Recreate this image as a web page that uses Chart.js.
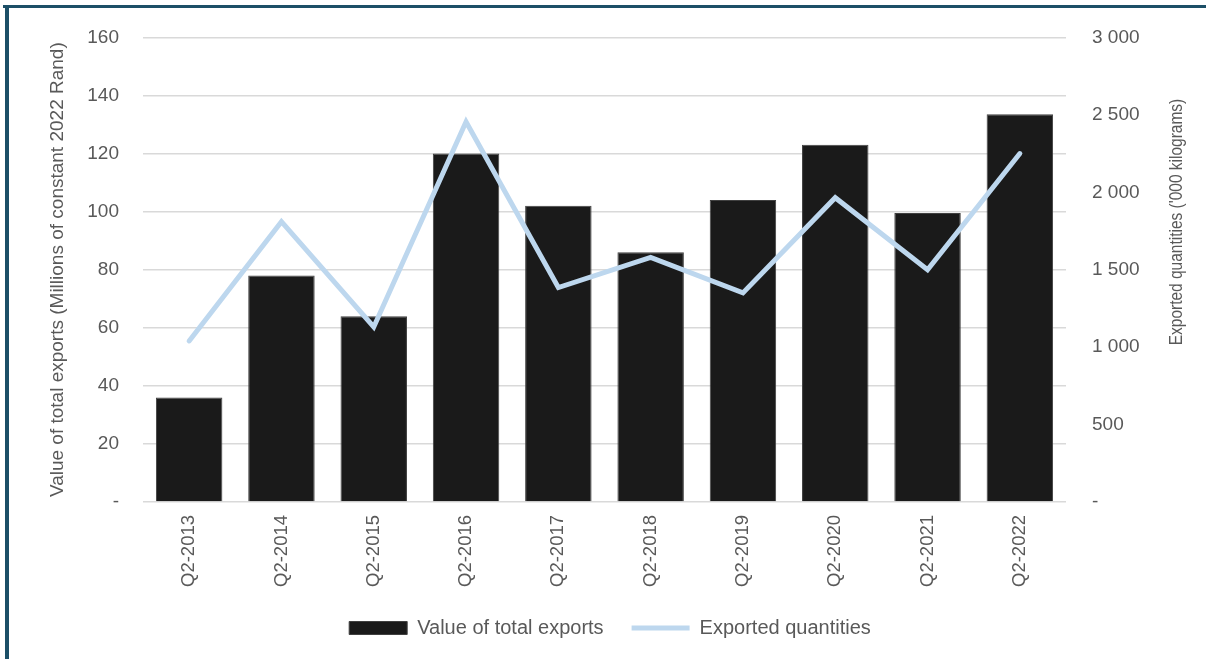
<!DOCTYPE html>
<html lang="en">
<head>
  <meta charset="UTF-8" />
  <title>Exports chart</title>
  <script src="https://cdn.jsdelivr.net/npm/chart.js"></script>
  <style>
    html, body {
      margin: 0;
      padding: 0;
      background: #ffffff;
      overflow: hidden;
    }
    .frame-top {
      position: absolute;
      left: 3px;
      top: 5px;
      width: 1203px;
      height: 3px;
      background: #1c4f67;
    }
    .frame-left {
      position: absolute;
      left: 5px;
      top: 5px;
      width: 4px;
      height: 654px;
      background: #1c4f67;
    }
    .wrap {
      position: absolute;
      left: 0;
      top: 0;
      width: 1206px;
      height: 659px;
    }
  </style>
</head>
<body>
  <div class="wrap"><canvas id="exportsChart"></canvas></div>
  <div class="frame-top"></div>
  <div class="frame-left"></div>

  <script>
    // data
    const categories = ['Q2-2013', 'Q2-2014', 'Q2-2015', 'Q2-2016', 'Q2-2017',
                        'Q2-2018', 'Q2-2019', 'Q2-2020', 'Q2-2021', 'Q2-2022'];
    const exportValues = [36, 78, 64, 120, 102, 86, 104, 123, 99.5, 133.5];   // R millions
    const exportQuantities = [1040, 1810, 1130, 2455, 1385, 1580, 1350, 1965, 1500, 2250]; // '000 kg

    const leftTicks = [0, 20, 40, 60, 80, 100, 120, 140, 160];
    const rightTicks = [0, 500, 1000, 1500, 2000, 2500, 3000];

    const leftTitle = 'Value of total exports (Millions of constant 2022 Rand)';
    const rightTitle = "Exported quantities ('000 kilograms)";

    const grey = '#595959';
    const family = "'Liberation Sans', Arial, sans-serif";
    const tickFont = { family: family, size: 19 };
    const xFont = { family: family, size: 18.5 };
    const legendFont = { family: family, size: 20 };

    const fmtSpace = v => v === 0 ? '-' : String(v).replace(/\B(?=(\d{3})+(?!\d))/g, ' ');

    // right axis title reads bottom-to-top in the original (and is squeezed), Chart.js turns it the other way
    const rightTitlePlugin = {
      id: 'rightTitle',
      afterDraw(chart) {
        const c = chart.ctx;
        c.save();
        c.translate(1177, 222);
        c.rotate(-Math.PI / 2);
        c.scale(0.815, 1);
        c.font = '19px ' + family;
        c.fillStyle = grey;
        c.textAlign = 'center';
        c.textBaseline = 'middle';
        c.fillText(rightTitle, 0, 0);
        c.restore();
      }
    };

    const ctx = document.getElementById('exportsChart').getContext('2d');
    new Chart(ctx, {
      data: {
        labels: categories,
        datasets: [
          {
            type: 'line',
            label: 'Exported quantities',
            data: exportQuantities,
            yAxisID: 'yRight',
            borderColor: '#bdd7ee',
            backgroundColor: '#bdd7ee',
            borderWidth: 5,
            borderCapStyle: 'round',
            pointRadius: 0,
            pointStyle: 'line',
            tension: 0,
            order: 0
          },
          {
            type: 'bar',
            label: 'Value of total exports',
            data: exportValues,
            yAxisID: 'yLeft',
            backgroundColor: '#1a1a1a',
            borderColor: '#404040',
            borderWidth: 1,
            categoryPercentage: 1,
            barPercentage: 0.72,
            pointStyle: 'rect',
            order: 1
          }
        ]
      },
      options: {
        responsive: true,
        maintainAspectRatio: false,
        animation: false,
        layout: { padding: { top: 33, left: 46, right: 32, bottom: 11 } },
        plugins: {
          tooltip: { enabled: false },
          legend: {
            position: 'bottom',
            reverse: true,
            labels: {
              color: grey,
              font: legendFont,
              usePointStyle: true,
              pointStyleWidth: 58,
              boxHeight: 13,
              padding: 28
            }
          }
        },
        scales: {
          x: {
            grid: { display: false },
            border: { display: false },
            ticks: {
              color: grey,
              font: xFont,
              minRotation: 90,
              maxRotation: 90,
              padding: 5
            },
            afterFit: s => { s.height = 88; }
          },
          yLeft: {
            position: 'left',
            min: 0,
            max: 160,
            afterBuildTicks: s => { s.ticks = leftTicks.map(v => ({ value: v })); },
            grid: { color: '#d9d9d9', lineWidth: 1.5, drawTicks: false },
            border: { display: false },
            ticks: {
              color: grey,
              font: tickFont,
              padding: 24,
              callback: v => v === 0 ? '-' : v
            },
            title: {
              display: true,
              text: leftTitle,
              color: grey,
              font: tickFont,
              padding: { top: 0, bottom: 10 }
            },
            afterFit: s => { s.width = 97; }
          },
          yRight: {
            position: 'right',
            min: 0,
            max: 3000,
            afterBuildTicks: s => { s.ticks = rightTicks.map(v => ({ value: v })); },
            grid: { display: false, drawTicks: false },
            border: { display: false },
            ticks: {
              color: grey,
              font: tickFont,
              padding: 26,
              callback: v => fmtSpace(v)
            },
            afterFit: s => { s.width = 108; }
          }
        }
      },
      plugins: [rightTitlePlugin]
    });
  </script>
</body>
</html>
